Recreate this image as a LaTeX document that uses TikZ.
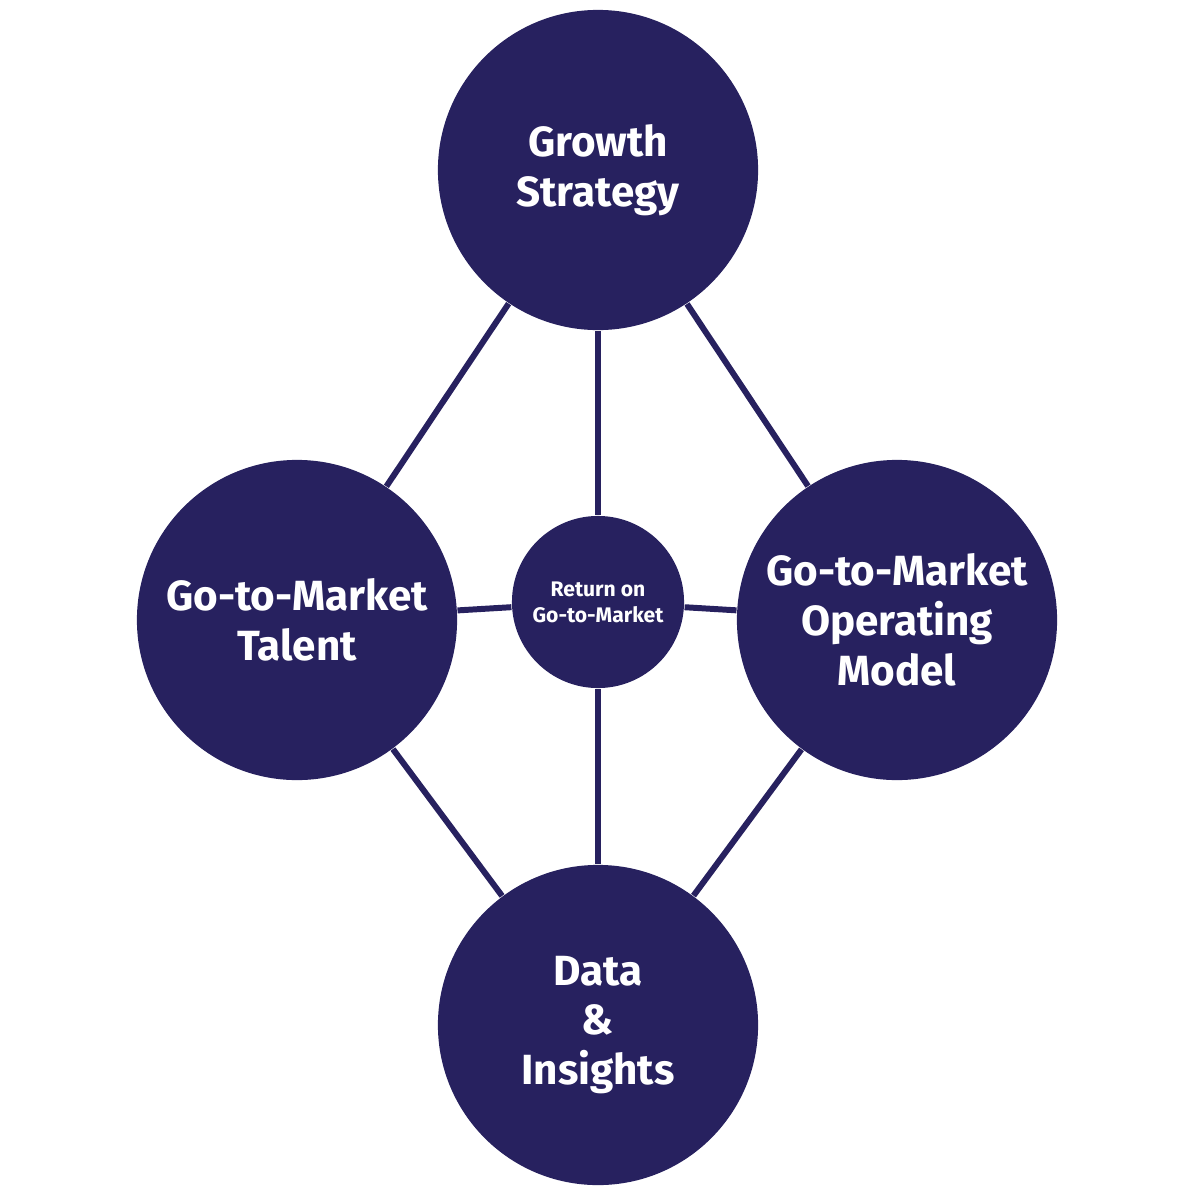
\documentclass[tikz,border=0pt]{standalone}
\usepackage{fontspec}
\setmainfont{Fira Sans}
\usetikzlibrary{calc,positioning}
\definecolor{gtmBlue}{HTML}{27215F}

\begin{document}
\begin{tikzpicture}[x=0.01cm,y=-0.01cm,
  bigcircle/.style={circle,fill=gtmBlue,minimum size=3.2cm,inner sep=0pt,align=center,
    text=white,font=\fontsize{12}{14.2}\selectfont\bfseries},
  hubcircle/.style={circle,fill=gtmBlue,minimum size=1.72cm,inner sep=0pt,align=center,
    text=white,font=\fontsize{6}{7.4}\selectfont\bfseries},
  link/.style={draw=gtmBlue,line width=1.7pt}]

\useasboundingbox (0,0) rectangle (1200,1200);

% the four pillars and the hub
\node[bigcircle] (growth)  at (598,170)  {Growth\\Strategy};
\node[bigcircle] (talent)  at (297,620)  {Go-to-Market\\Talent};
\node[bigcircle] (opmodel) at (897,620)  {Go-to-Market\\Operating\\Model};
\node[bigcircle] (data)    at (598,1025) {Data\\\&\\Insights};
\node[hubcircle] (hub)     at (598,602)  {Return on\\Go-to-Market};

% draw the links
\begin{scope}[on background layer/.style={}]
\foreach \a/\b in {growth/talent,growth/opmodel,talent/data,opmodel/data,
                   hub/growth,hub/data,hub/talent,hub/opmodel}
  \draw[link] (\a) -- (\b);
\end{scope}

\end{tikzpicture}
\end{document}
